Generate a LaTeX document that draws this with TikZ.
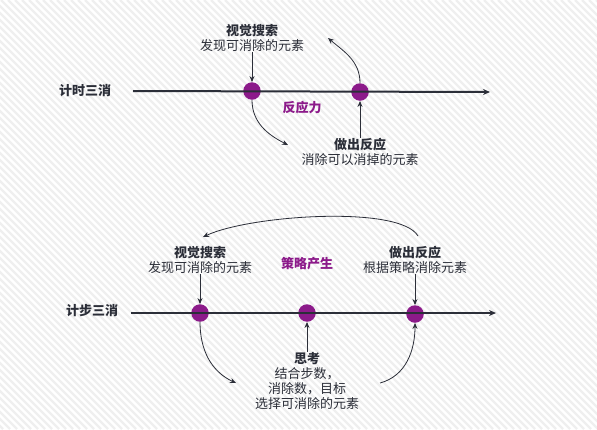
\documentclass[tikz,border=0pt]{standalone}
\usepackage{fontspec}
\setmainfont{Noto Sans CJK SC}
\usepackage{tikz}
\usetikzlibrary{arrows.meta}
\definecolor{inkdark}{HTML}{2B2E38}
\definecolor{beadpurple}{HTML}{8C1A8A}
\definecolor{hatchgray}{HTML}{EFEFEF}
\tikzset{
  bead/.style={circle, fill=beadpurple, draw=none, minimum size=17.5pt, inner sep=0pt},
  axis/.style={-{Stealth[length=7pt, width=6pt]}, line width=2pt, draw=inkdark},
  tag/.style={font=\fontsize{13}{15}\selectfont\bfseries, text=inkdark, inner sep=0pt},
  stage/.style={font=\fontsize{13}{15.3}\selectfont, text=inkdark, align=center, inner sep=0pt},
  phase/.style={font=\fontsize{13}{15}\selectfont\bfseries, text=beadpurple, inner sep=0pt},
  poke/.style={-{Stealth[length=6pt, width=5pt]}, line width=0.8pt, draw=inkdark},
}

\begin{document}
\begin{tikzpicture}[x=1pt,y=-1pt]
% background with light hatching
\useasboundingbox (0,0) rectangle (597,429);
\fill[white] (0,0) rectangle (597,429);
\begin{scope}
\clip (0,0) rectangle (597,429);
\foreach \s in {-440,-433,...,600}
  \draw[hatchgray, line width=2.2pt] (\s,0) -- (\s+429,429);
\end{scope}
% timed match-three
\node[tag] (timed) at (85,91) {计时三消};
\node[bead] (t1) at (252,91) {};
\node[bead] (t2) at (360,92) {};
\coordinate (tstart) at (133,91);
\coordinate (tend) at (490,92);
\draw[axis] (tstart) -- (tend);
\node[stage] (tsee) at (252,38) {\textbf{视觉搜索}\\发现可消除的元素};
\node[stage] (tact) at (360,152) {\textbf{做出反应}\\消除可以消掉的元素};
\node[phase] (tgap) at (302,108) {反应力};
\coordinate (tdrop) at (288,145);
\coordinate (tback) at (328,38);
\draw[poke] (tsee) -- (t1);
\draw[poke] (tact) -- (t2);
\draw[poke] (t1.south) to[out=-90,in=153] (tdrop);
\draw[poke] (t2.north) to[out=90,in=-40] (tback);
% step match-three
\node[tag] (stepped) at (92,311) {计步三消};
\node[bead] (s1) at (200,313) {};
\node[bead] (s2) at (307,313) {};
\node[bead] (s3) at (415,314) {};
\coordinate (sstart) at (131,313);
\coordinate (send) at (496,313);
\draw[axis] (sstart) -- (send);
\node[stage] (ssee) at (200,260) {\textbf{视觉搜索}\\发现可消除的元素};
\node[phase] (sgap) at (307,264) {策略产生};
\node[stage] (sact) at (415,260) {\textbf{做出反应}\\根据策略消除元素};
\node[stage] (sthink) at (307,381) {\textbf{思考}\\结合步数，\\消除数，目标\\选择可消除的元素};
\coordinate (sdrop) at (236,383);
\coordinate (srise) at (380,383);
\coordinate (sloop) at (418,236);
\coordinate (sland) at (203,237);
\draw[poke] (ssee) -- (s1);
\draw[poke] (sact) -- (s3);
\draw[poke] (sthink) -- (s2);
\draw[poke] (s1.south) to[out=-90,in=155] (sdrop);
\draw[poke] (srise) to[out=15,in=-90] (s3.south);
\draw[poke] (sloop) .. controls (400,205) and (250,215) .. (sland);
\end{tikzpicture}
\end{document}
